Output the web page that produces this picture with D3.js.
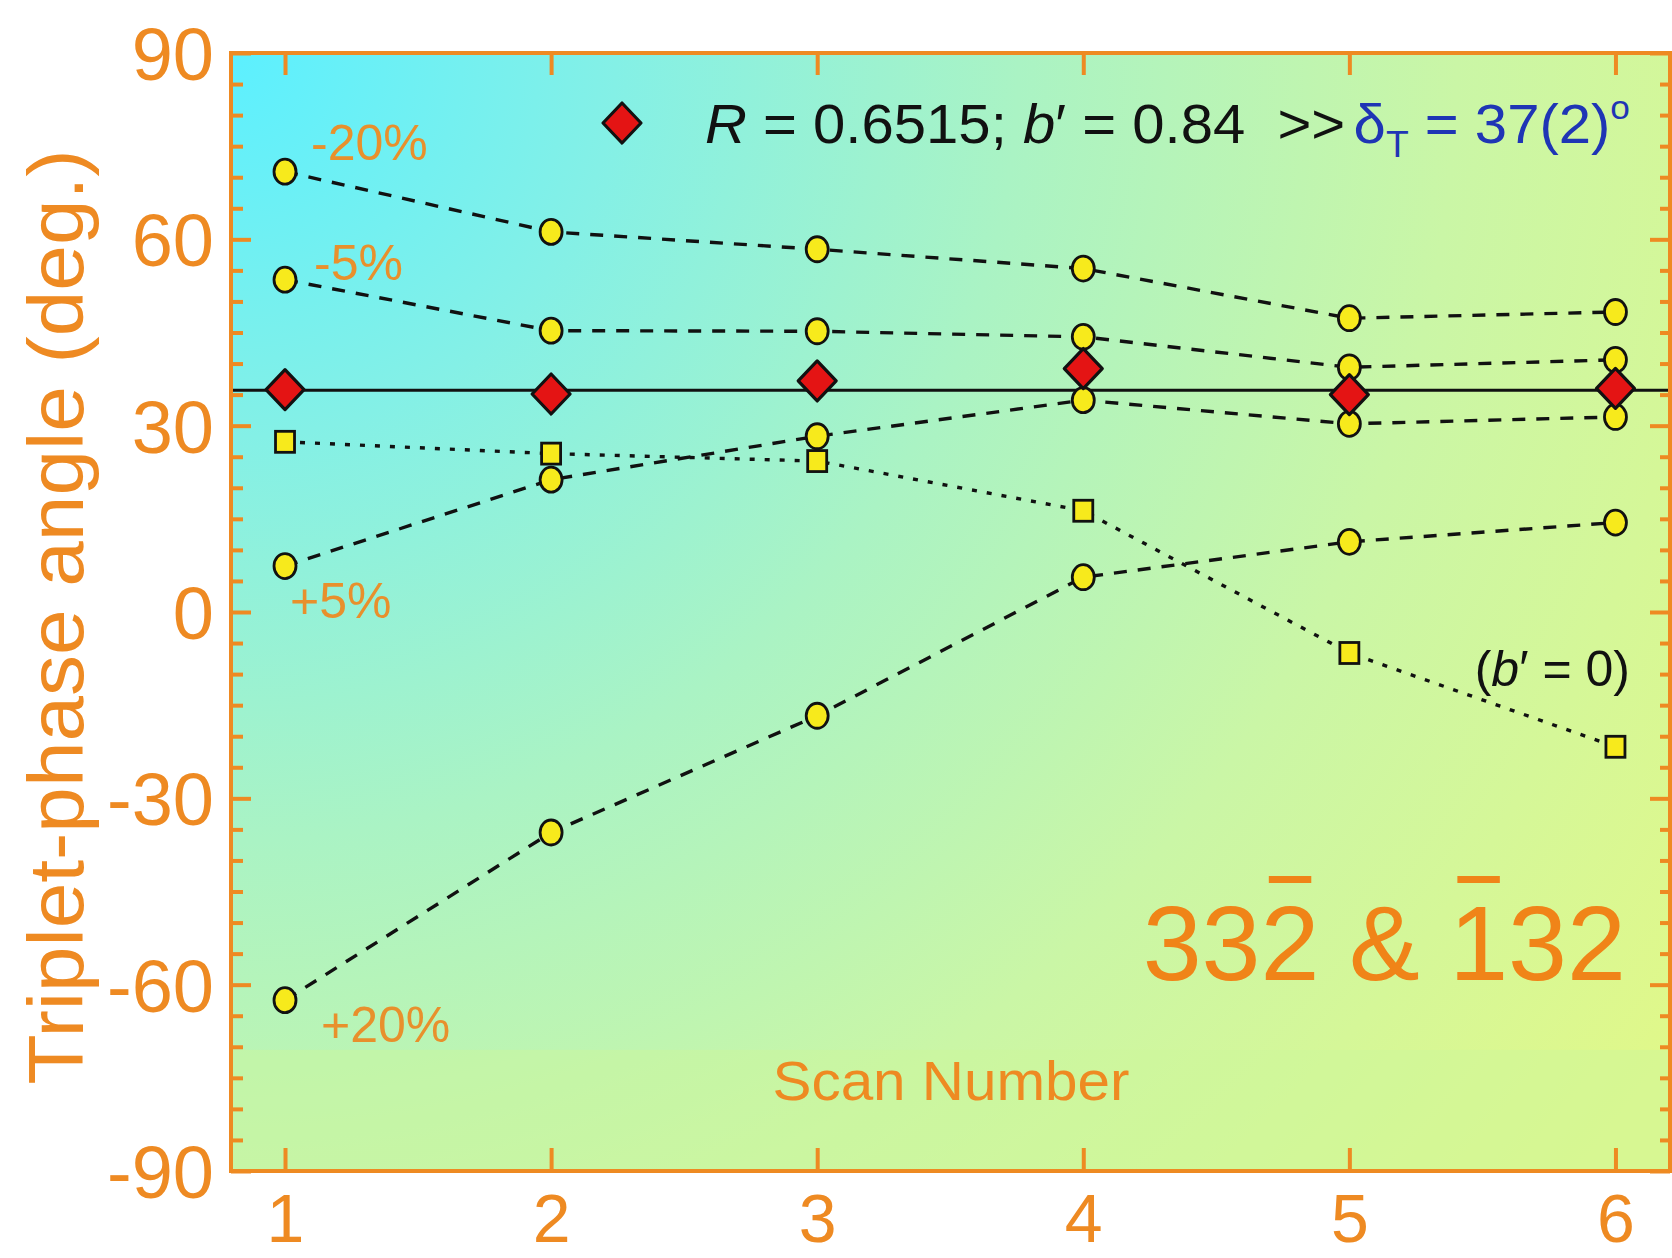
<!DOCTYPE html>
<html>
<head>
<meta charset="utf-8">
<script src="https://cdn.jsdelivr.net/npm/d3@7"></script>
<style>
  html, body { margin: 0; padding: 0; background: #ffffff; }
  svg { display: block; }
  text { font-family: "Liberation Sans", Arial, "DejaVu Sans", sans-serif; }
</style>
</head>
<body>
<svg id="chart" width="1672" height="1258"></svg>
<script>
// Scan numbers and triplet-phase angles (degrees)
const scans = [1, 2, 3, 4, 5, 6];
const fitted = [35.8, 35.1, 37.2, 39.2, 35.0, 36.0];      // R = 0.6515, b' = 0.84
const minus20 = [70.9, 61.2, 58.4, 55.3, 47.3, 48.3];
const minus5 = [53.5, 45.3, 45.2, 44.3, 39.4, 40.6];
const plus5 = [7.4, 21.3, 28.3, 34.1, 30.3, 31.4];
const plus20 = [-62.5, -35.5, -16.7, 5.6, 11.3, 14.4];
const bZero = [27.4, 25.5, 24.3, 16.3, -6.6, -21.7];       // b' = 0
const deltaT = 35.7;                                          // horizontal reference line
const yTicks = [-90, -60, -30, 0, 30, 60, 90];
const yMinorStep = 5;
const seriesLabels = [
  { text: "-20%", scan: 1.098, value: 72.7 },
  { text: "-5%", scan: 1.109, value: 53.5 },
  { text: "+5%", scan: 1.019, value: -0.9 },
  { text: "+20%", scan: 1.135, value: -69.3 }
];

const orange = "#EE8A22";
const svg = d3.select("#chart");

const x = d3.scaleLinear().domain([0.797, 6.205]).range([231, 1670]);
const y = d3.scaleLinear().domain([-90, 90]).range([1171, 53]);
const [x0, x1] = x.range();
const [yb, yt] = y.range();

// Background gradient of the plot area
const defs = svg.append("defs");
const grad = defs.append("radialGradient")
  .attr("id", "bg").attr("gradientUnits", "userSpaceOnUse")
  .attr("cx", x0).attr("cy", yt).attr("r", 1750);
[[0, "#5CF0FF"], [0.22, "#84F0E6"], [0.45, "#AAF3C4"], [0.7, "#CAF6A6"], [1, "#E0F88A"]]
  .forEach(([o, c]) => grad.append("stop").attr("offset", o).attr("stop-color", c));

const clip = defs.append("clipPath").attr("id", "plotclip");
clip.append("rect").attr("x", x0).attr("y", yt).attr("width", x1 - x0).attr("height", yb - yt);

svg.append("rect").attr("x", x0).attr("y", yt).attr("width", x1 - x0).attr("height", yb - yt)
  .attr("fill", "url(#bg)");
// lower band behind the axis caption
svg.append("rect").attr("x", x0).attr("y", y(-70.5)).attr("width", x1 - x0).attr("height", yb - y(-70.5))
  .attr("fill", "#CDF79C").attr("opacity", 0.45);

const plot = svg.append("g").attr("clip-path", "url(#plotclip)");

const line = d3.line().x((d, i) => x(scans[i])).y(d => y(d));

// reference line
plot.append("line")
  .attr("x1", x0).attr("x2", x1).attr("y1", y(deltaT)).attr("y2", y(deltaT))
  .attr("stroke", "#111").attr("stroke-width", 3);

// dashed curves
[minus20, minus5, plus5, plus20].forEach(s => {
  plot.append("path").attr("d", line(s)).attr("fill", "none")
    .attr("stroke", "#111").attr("stroke-width", 3.4).attr("stroke-dasharray", "13,11");
});
// dotted curve for b' = 0
plot.append("path").attr("d", line(bZero)).attr("fill", "none")
  .attr("stroke", "#111").attr("stroke-width", 3.4).attr("stroke-dasharray", "5,10");

// circles
[minus20, minus5, plus5, plus20].forEach(s => {
  plot.selectAll(null).data(s).enter().append("ellipse")
    .attr("cx", (d, i) => x(scans[i])).attr("cy", d => y(d))
    .attr("rx", 11).attr("ry", 12.5)
    .attr("fill", "#F7EA1C").attr("stroke", "#111").attr("stroke-width", 2.8);
});
// squares
plot.selectAll(null).data(bZero).enter().append("rect")
  .attr("x", (d, i) => x(scans[i]) - 9.5).attr("y", d => y(d) - 10.5)
  .attr("width", 19).attr("height", 21)
  .attr("fill", "#F7EA1C").attr("stroke", "#111").attr("stroke-width", 2.8);

// diamonds
const diamond = (cx, cy) => `M${cx},${cy - 20}L${cx + 19},${cy}L${cx},${cy + 20}L${cx - 19},${cy}Z`;
plot.selectAll(null).data(fitted).enter().append("path")
  .attr("d", (d, i) => diamond(x(scans[i]), y(d)))
  .attr("fill", "#E41414").attr("stroke", "#111").attr("stroke-width", 3.2).attr("stroke-linejoin", "round");

// series labels
svg.selectAll(null).data(seriesLabels).enter().append("text")
  .attr("x", d => x(d.scan)).attr("y", d => y(d.value))
  .attr("font-size", 50).attr("fill", "#E8902C").text(d => d.text);

// (b' = 0) label
const bl = svg.append("text").attr("x", 1630).attr("y", 686).attr("text-anchor", "end")
  .attr("font-size", 50).attr("fill", "#111");
bl.append("tspan").text("(");
bl.append("tspan").attr("font-style", "italic").text("b");
bl.append("tspan").text("\u2032 = 0)");

// legend
svg.append("path").attr("d", diamond(622, 123))
  .attr("fill", "#E41414").attr("stroke", "#111").attr("stroke-width", 3.2).attr("stroke-linejoin", "round");
const lg = svg.append("text").attr("x", 705).attr("y", 143).attr("font-size", 56).attr("fill", "#111")
  .attr("textLength", 925).attr("lengthAdjust", "spacingAndGlyphs");
lg.append("tspan").attr("font-style", "italic").text("R");
lg.append("tspan").text(" = 0.6515; ");
lg.append("tspan").attr("font-style", "italic").text("b");
lg.append("tspan").text("\u2032 = 0.84\u00A0 >>");
lg.append("tspan").attr("fill", "#1F35B5").attr("dx", 8).text("\u03B4");
lg.append("tspan").attr("fill", "#1F35B5").attr("font-size", 36).attr("dy", 14).text("T");
lg.append("tspan").attr("fill", "#1F35B5").attr("dy", -14).text(" = 37(2)");
lg.append("tspan").attr("fill", "#1F35B5").attr("font-size", 34).attr("dy", -24).text("o");

// reflection label with overbars
const big = svg.append("text").attr("x", 1626).attr("y", 980).attr("text-anchor", "end")
  .attr("font-size", 106).attr("fill", "#F08418").text("332 & 132");
[2, 6].forEach(i => {
  const e = big.node().getExtentOfChar(i);
  svg.append("rect").attr("x", e.x + e.width * 0.14).attr("y", 876)
    .attr("width", e.width * 0.72).attr("height", 7).attr("fill", "#F08418");
});

// axis caption inside the plot
svg.append("text").attr("x", 951).attr("y", 1100).attr("text-anchor", "middle")
  .attr("font-size", 56).attr("fill", orange)
  .attr("textLength", 357).attr("lengthAdjust", "spacingAndGlyphs").text("Scan Number");

// y-axis title
svg.append("text").attr("transform", `translate(83,${617}) rotate(-90)`).attr("text-anchor", "middle")
  .attr("font-size", 78).attr("fill", orange)
  .attr("textLength", 935).attr("lengthAdjust", "spacingAndGlyphs").text("Triplet-phase angle (deg.)");

// ticks
const minorVals = d3.range(-90, 90.1, yMinorStep).filter(v => !yTicks.includes(v));
function styleAxis(g) {
  g.select(".domain").remove();
  g.selectAll("line").attr("stroke", orange).attr("stroke-width", 4);
}
svg.append("g").attr("transform", `translate(${x0},0)`)
  .call(d3.axisRight(y).tickValues(minorVals).tickSize(12).tickFormat("")).call(styleAxis);
svg.append("g").attr("transform", `translate(${x0},0)`)
  .call(d3.axisRight(y).tickValues(yTicks).tickSize(20).tickFormat("")).call(styleAxis);
svg.append("g").attr("transform", `translate(${x1},0)`)
  .call(d3.axisLeft(y).tickValues(minorVals).tickSize(10).tickFormat("")).call(styleAxis);
svg.append("g").attr("transform", `translate(${x1},0)`)
  .call(d3.axisLeft(y).tickValues(yTicks).tickSize(20).tickFormat("")).call(styleAxis);
svg.append("g").attr("transform", `translate(0,${yb})`)
  .call(d3.axisTop(x).tickValues(scans).tickSize(23).tickFormat("")).call(styleAxis);
svg.append("g").attr("transform", `translate(0,${yt})`)
  .call(d3.axisBottom(x).tickValues(scans).tickSize(22).tickFormat("")).call(styleAxis);

// tick labels (plain hyphen for negatives)
const yl = svg.append("g").attr("transform", `translate(${x0},0)`)
  .call(d3.axisLeft(y).tickValues(yTicks).tickSize(0).tickPadding(17).tickFormat(d => String(d)));
yl.select(".domain").remove();
yl.selectAll("text").attr("font-size", 74).attr("fill", orange)
  .attr("font-family", "Liberation Sans, Arial, sans-serif").attr("dy", "0.36em");

const xl = svg.append("g").attr("transform", `translate(0,${yb})`)
  .call(d3.axisBottom(x).tickValues(scans).tickSize(0).tickFormat(d => String(d)));
xl.select(".domain").remove();
xl.selectAll("text").attr("font-size", 68).attr("fill", orange)
  .attr("font-family", "Liberation Sans, Arial, sans-serif")
  .attr("y", 71).attr("dy", null);

// frame
svg.append("rect").attr("x", x0).attr("y", yt).attr("width", x1 - x0).attr("height", yb - yt)
  .attr("fill", "none").attr("stroke", orange).attr("stroke-width", 4);
</script>
</body>
</html>
